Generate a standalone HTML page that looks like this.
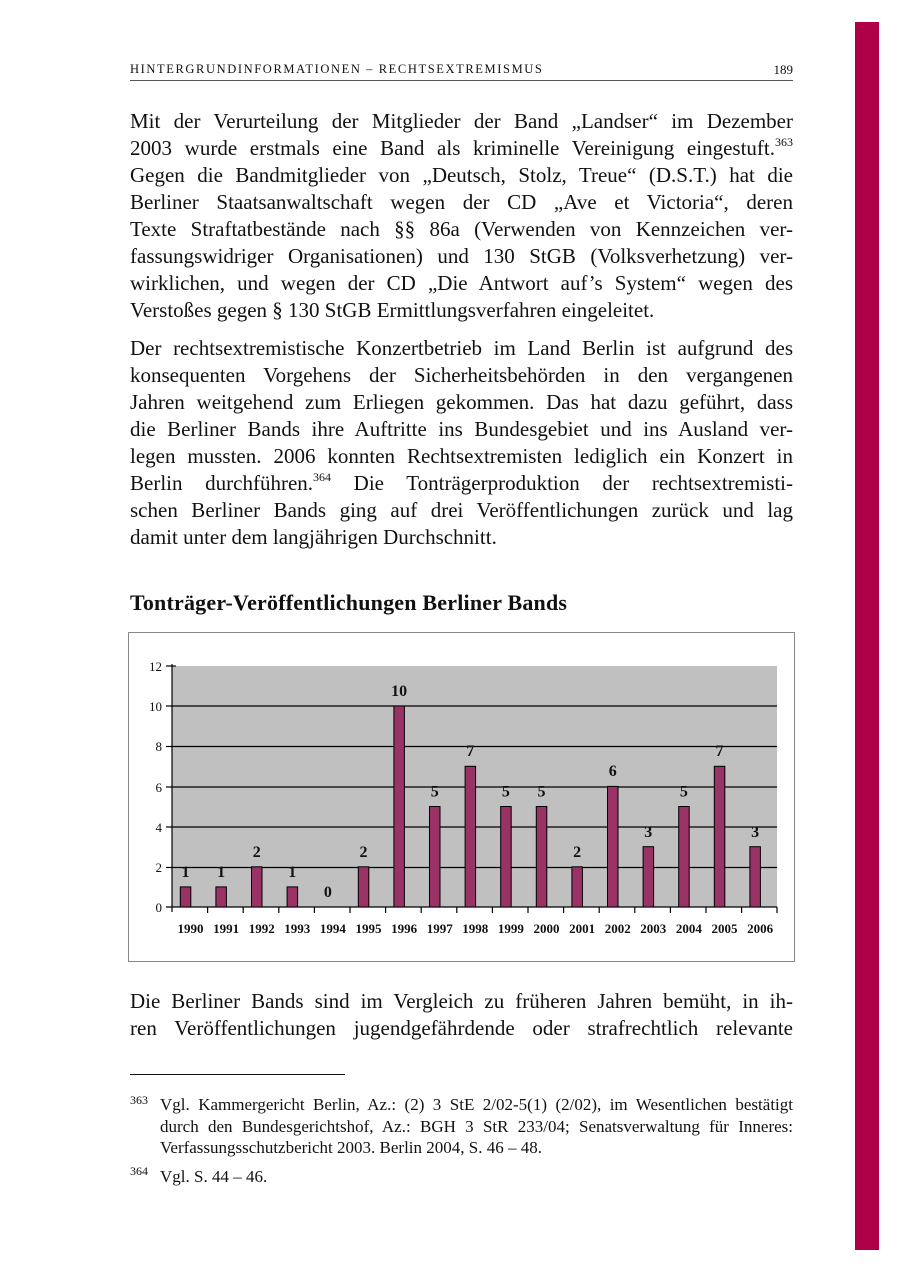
<!DOCTYPE html>
<html><head><meta charset="utf-8"><style>
html,body{margin:0;padding:0;background:#fff;}
body{width:900px;height:1273px;position:relative;overflow:hidden;font-family:"Liberation Serif","Times New Roman",Times,serif;color:#111;}
.l{position:absolute;left:130px;width:663px;font-size:21px;line-height:27px;text-align:justify;text-align-last:justify;white-space:nowrap;}
.l.e{text-align-last:left;}
.s{font-size:12px;position:relative;top:-9px;}
.f{position:absolute;left:160px;width:633px;font-size:17px;line-height:21.5px;text-align:justify;text-align-last:justify;white-space:nowrap;}
.fn{position:absolute;left:130px;font-size:12px;}
</style></head><body>
<div style="position:absolute;left:855px;top:22px;width:24px;height:1228px;background:#ad0048;"></div>
<div style="position:absolute;left:130px;top:62px;font-size:12.5px;letter-spacing:1.6px;">HINTERGRUNDINFORMATIONEN – RECHTSEXTREMISMUS</div>
<div style="position:absolute;left:760px;top:62px;width:33px;text-align:right;font-size:13px;">189</div>
<div style="position:absolute;left:130px;top:80px;width:663px;height:1px;background:#555;"></div>

<div class="l" style="top:108px">Mit der Verurteilung der Mitglieder der Band „Landser“ im Dezember</div>
<div class="l" style="top:135px">2003 wurde erstmals eine Band als kriminelle Vereinigung eingestuft.<span class="s">363</span></div>
<div class="l" style="top:162px">Gegen die Bandmitglieder von „Deutsch, Stolz, Treue“ (D.S.T.) hat die</div>
<div class="l" style="top:189px">Berliner Staatsanwaltschaft wegen der CD „Ave et Victoria“, deren</div>
<div class="l" style="top:216px">Texte Straftatbestände nach §§ 86a (Verwenden von Kennzeichen ver-</div>
<div class="l" style="top:243px">fassungswidriger Organisationen) und 130 StGB (Volksverhetzung) ver-</div>
<div class="l" style="top:270px">wirklichen, und wegen der CD „Die Antwort auf’s System“ wegen des</div>
<div class="l e" style="top:297px">Verstoßes gegen § 130 StGB Ermittlungsverfahren eingeleitet.</div>

<div class="l" style="top:335px">Der rechtsextremistische Konzertbetrieb im Land Berlin ist aufgrund des</div>
<div class="l" style="top:362px">konsequenten Vorgehens der Sicherheitsbehörden in den vergangenen</div>
<div class="l" style="top:389px">Jahren weitgehend zum Erliegen gekommen. Das hat dazu geführt, dass</div>
<div class="l" style="top:416px">die Berliner Bands ihre Auftritte ins Bundesgebiet und ins Ausland ver-</div>
<div class="l" style="top:443px">legen mussten. 2006 konnten Rechtsextremisten lediglich ein Konzert in</div>
<div class="l" style="top:470px">Berlin durchführen.<span class="s">364</span> Die Tonträgerproduktion der rechtsextremisti-</div>
<div class="l" style="top:497px">schen Berliner Bands ging auf drei Veröffentlichungen zurück und lag</div>
<div class="l e" style="top:524px">damit unter dem langjährigen Durchschnitt.</div>

<div style="position:absolute;left:130px;top:590px;font-size:22px;font-weight:bold;letter-spacing:0.2px;">Tonträger-Veröffentlichungen Berliner Bands</div>

<svg style="position:absolute;left:0;top:0" width="900" height="1273" viewBox="0 0 900 1273">
<rect x="128.5" y="632.5" width="666" height="329" fill="#fff" stroke="#888" stroke-width="1"/>
<rect x="172" y="666" width="605" height="241" fill="#c0c0c0"/>
<g stroke="#000" stroke-width="1.2">
<line x1="172" y1="706" x2="777" y2="706"/>
<line x1="172" y1="746.5" x2="777" y2="746.5"/>
<line x1="172" y1="787" x2="777" y2="787"/>
<line x1="172" y1="827" x2="777" y2="827"/>
<line x1="172" y1="867.5" x2="777" y2="867.5"/>
<line x1="172" y1="664" x2="172" y2="912"/>
<line x1="166" y1="907" x2="777" y2="907"/>
<line x1="166" y1="666" x2="176" y2="666"/><line x1="166" y1="706" x2="172" y2="706"/><line x1="166" y1="746.5" x2="172" y2="746.5"/><line x1="166" y1="787" x2="172" y2="787"/><line x1="166" y1="827" x2="172" y2="827"/><line x1="166" y1="867.5" x2="172" y2="867.5"/>
<line x1="207.6" y1="907" x2="207.6" y2="913"/><line x1="243.2" y1="907" x2="243.2" y2="913"/><line x1="278.8" y1="907" x2="278.8" y2="913"/><line x1="314.4" y1="907" x2="314.4" y2="913"/><line x1="350" y1="907" x2="350" y2="913"/><line x1="385.6" y1="907" x2="385.6" y2="913"/><line x1="421.2" y1="907" x2="421.2" y2="913"/><line x1="456.8" y1="907" x2="456.8" y2="913"/><line x1="492.4" y1="907" x2="492.4" y2="913"/><line x1="528" y1="907" x2="528" y2="913"/><line x1="563.6" y1="907" x2="563.6" y2="913"/><line x1="599.2" y1="907" x2="599.2" y2="913"/><line x1="634.8" y1="907" x2="634.8" y2="913"/><line x1="670.4" y1="907" x2="670.4" y2="913"/><line x1="706" y1="907" x2="706" y2="913"/><line x1="741.6" y1="907" x2="741.6" y2="913"/><line x1="777" y1="907" x2="777" y2="913"/>
</g>
<g font-family="Liberation Serif, Times New Roman, serif" font-size="13" text-anchor="end" fill="#111">
<text x="162" y="671">12</text><text x="162" y="711">10</text><text x="162" y="751">8</text><text x="162" y="792">6</text><text x="162" y="832">4</text><text x="162" y="872">2</text><text x="162" y="912">0</text>
</g>
<g fill="#993366" stroke="#000" stroke-width="1">
<rect x="180.3" y="886.9" width="10.5" height="20.1"/>
<rect x="215.9" y="886.9" width="10.5" height="20.1"/>
<rect x="251.5" y="866.8" width="10.5" height="40.2"/>
<rect x="287.1" y="886.9" width="10.5" height="20.1"/>
<rect x="358.3" y="866.8" width="10.5" height="40.2"/>
<rect x="393.9" y="706" width="10.5" height="201"/>
<rect x="429.5" y="806.5" width="10.5" height="100.5"/>
<rect x="465.1" y="766.3" width="10.5" height="140.7"/>
<rect x="500.7" y="806.5" width="10.5" height="100.5"/>
<rect x="536.3" y="806.5" width="10.5" height="100.5"/>
<rect x="571.9" y="866.8" width="10.5" height="40.2"/>
<rect x="607.5" y="786.4" width="10.5" height="120.6"/>
<rect x="643.1" y="846.7" width="10.5" height="60.3"/>
<rect x="678.7" y="806.5" width="10.5" height="100.5"/>
<rect x="714.3" y="766.3" width="10.5" height="140.7"/>
<rect x="749.9" y="846.7" width="10.5" height="60.3"/>
</g>
<g font-family="Liberation Serif, Times New Roman, serif" font-weight="bold" font-size="16" text-anchor="middle" fill="#111">
<text x="185.5" y="877">1</text><text x="221.1" y="877">1</text><text x="256.7" y="857">2</text><text x="292.3" y="877">1</text><text x="327.9" y="897">0</text><text x="363.5" y="857">2</text><text x="399.1" y="696">10</text><text x="434.7" y="796.5">5</text><text x="470.3" y="756">7</text><text x="505.9" y="796.5">5</text><text x="541.5" y="796.5">5</text><text x="577.1" y="857">2</text><text x="612.7" y="776">6</text><text x="648.3" y="837">3</text><text x="683.9" y="796.5">5</text><text x="719.5" y="756">7</text><text x="755.1" y="837">3</text>
</g>
<g font-family="Liberation Serif, Times New Roman, serif" font-weight="bold" font-size="13" text-anchor="middle" fill="#111">
<text x="190.5" y="933">1990</text><text x="226.1" y="933">1991</text><text x="261.7" y="933">1992</text><text x="297.3" y="933">1993</text><text x="332.9" y="933">1994</text><text x="368.5" y="933">1995</text><text x="404.1" y="933">1996</text><text x="439.7" y="933">1997</text><text x="475.3" y="933">1998</text><text x="510.9" y="933">1999</text><text x="546.5" y="933">2000</text><text x="582.1" y="933">2001</text><text x="617.7" y="933">2002</text><text x="653.3" y="933">2003</text><text x="688.9" y="933">2004</text><text x="724.5" y="933">2005</text><text x="760.1" y="933">2006</text>
</g>
</svg>

<div class="l" style="top:988px">Die Berliner Bands sind im Vergleich zu früheren Jahren bemüht, in ih-</div>
<div class="l" style="top:1015px">ren Veröffentlichungen jugendgefährdende oder strafrechtlich relevante</div>

<div style="position:absolute;left:130px;top:1074px;width:215px;height:1px;background:#111;"></div>
<div class="fn" style="top:1093px">363</div>
<div class="f" style="top:1094px">Vgl. Kammergericht Berlin, Az.: (2) 3 StE 2/02-5(1) (2/02), im Wesentlichen bestätigt</div>
<div class="f" style="top:1116px">durch den Bundesgerichtshof, Az.: BGH 3 StR 233/04; Senatsverwaltung für Inneres:</div>
<div class="f" style="top:1137px;text-align-last:left">Verfassungsschutzbericht 2003. Berlin 2004, S. 46 – 48.</div>
<div class="fn" style="top:1164px">364</div>
<div class="f" style="top:1166px;text-align-last:left">Vgl. S. 44 – 46.</div>
</body></html>
